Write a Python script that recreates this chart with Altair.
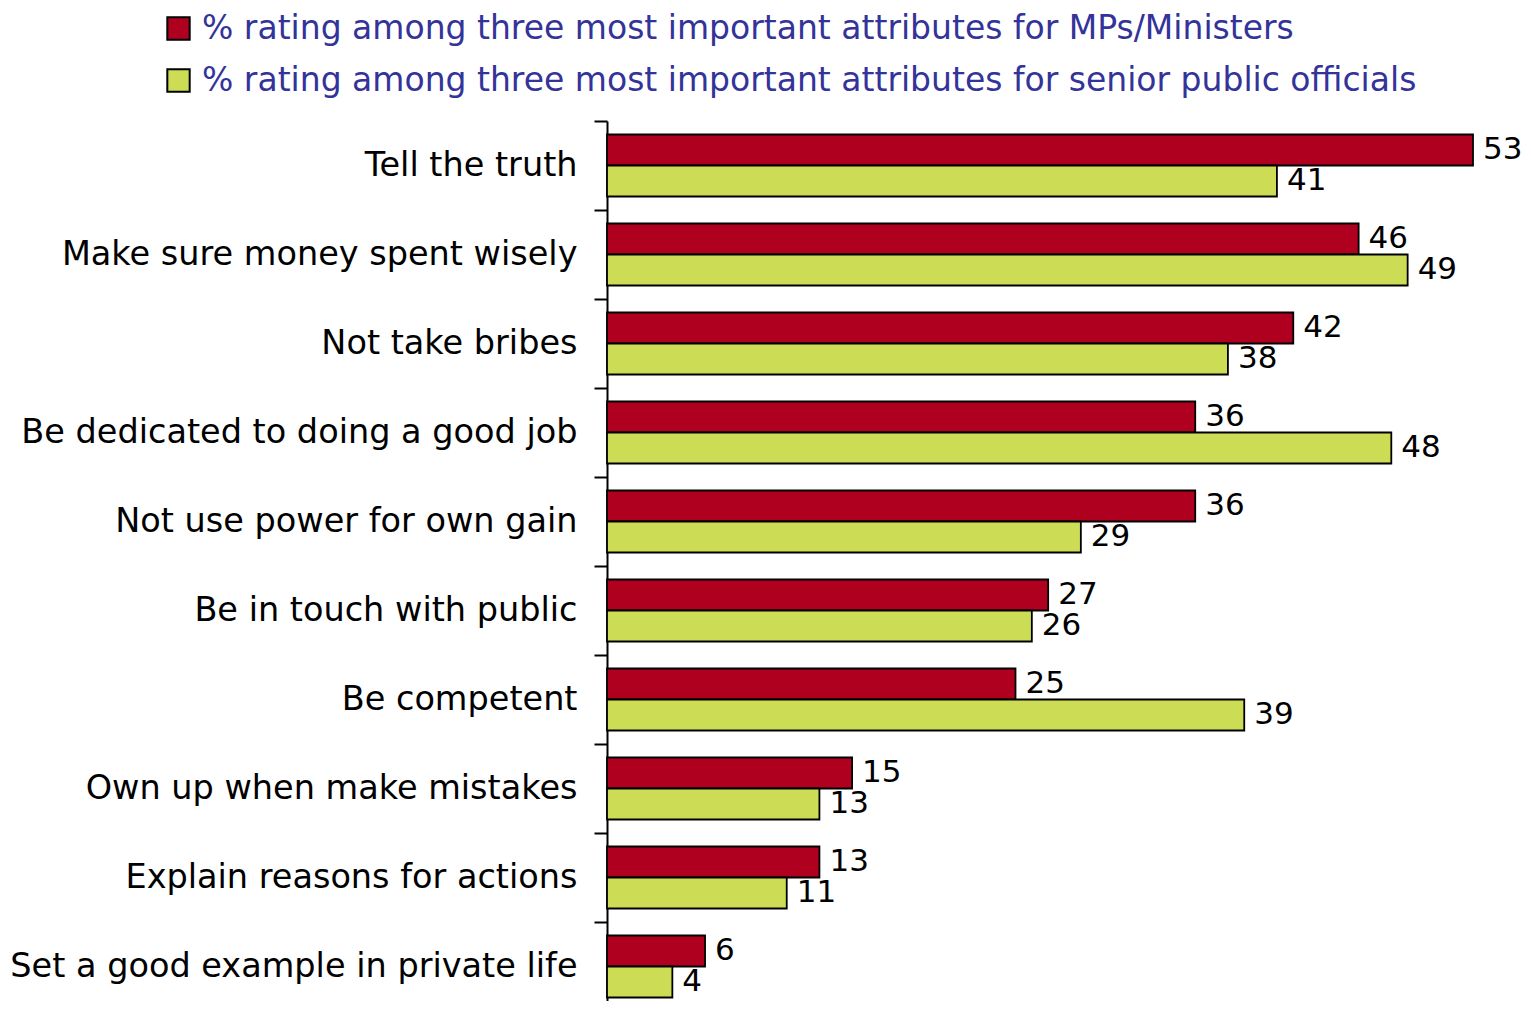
import altair as alt
import pandas as pd

categories = [
    "Tell the truth",
    "Make sure money spent wisely",
    "Not take bribes",
    "Be dedicated to doing a good job",
    "Not use power for own gain",
    "Be in touch with public",
    "Be competent",
    "Own up when make mistakes",
    "Explain reasons for actions",
    "Set a good example in private life",
]
series = [
    "% rating among three most important attributes for MPs/Ministers",
    "% rating among three most important attributes for senior public officials",
]
mps = [53, 46, 42, 36, 36, 27, 25, 15, 13, 6]
officials = [41, 49, 38, 48, 29, 26, 39, 13, 11, 4]
colors = ["#B00020", "#CCDD55"]

rows = []
for c, a, b in zip(categories, mps, officials):
    rows.append({"attr": c, "series": series[0], "value": a})
    rows.append({"attr": c, "series": series[1], "value": b})
df = pd.DataFrame(rows)

FONT = "DejaVu Sans"

y = alt.Y(
    "attr:N",
    sort=categories,
    scale=alt.Scale(paddingInner=0, paddingOuter=0, range=[0, 890]),
    axis=alt.Axis(
        title=None,
        bandPosition=0,
        labelFont=FONT,
        labelFontSize=33.5,
        labelColor="black",
        labelPadding=17,
        labelLimit=1000,
        tickSize=13,
        tickWidth=2,
        tickColor="black",
        domainColor="black",
        domainWidth=2,
        grid=False,
    ),
)
x = alt.X(
    "value:Q",
    scale=alt.Scale(domain=[0, 53], nice=False, zero=True),
    axis=None,
)
yoff = alt.YOffset(
    "series:N",
    sort=series,
    scale=alt.Scale(paddingOuter=0.435, paddingInner=0),
)

bars = alt.Chart(df).mark_bar(stroke="black", strokeWidth=1.8).encode(
    y=y,
    x=x,
    yOffset=yoff,
    color=alt.Color(
        "series:N",
        sort=series,
        scale=alt.Scale(domain=series, range=colors),
        legend=alt.Legend(
            title=None,
            orient="none",
            legendX=-445,
            legendY=-109,
            symbolType="square",
            symbolSize=500,
            symbolStrokeColor="black",
            symbolStrokeWidth=2,
            symbolOpacity=1,
            labelFont=FONT,
            labelFontSize=33,
            labelColor="#333399",
            labelLimit=2000,
            labelOffset=7,
            rowPadding=18,
        ),
    ),
)

labels = alt.Chart(df).mark_text(
    align="left", baseline="middle", dx=10, font=FONT, fontSize=31, color="black"
).encode(
    y=alt.Y("attr:N", sort=categories),
    x=alt.X("value:Q"),
    yOffset=alt.YOffset("series:N", sort=series),
    text=alt.Text("value:Q"),
)

chart = (
    alt.layer(bars, labels)
    .properties(
        width=866,
        height=880,
        autosize=alt.AutoSizeParams(type="none"),
        padding={"left": 599, "top": 113, "right": 50, "bottom": 0},
    )
    .configure_view(stroke=None)
)

chart.save("out.html", embed_options={"renderer": "svg", "actions": False})
